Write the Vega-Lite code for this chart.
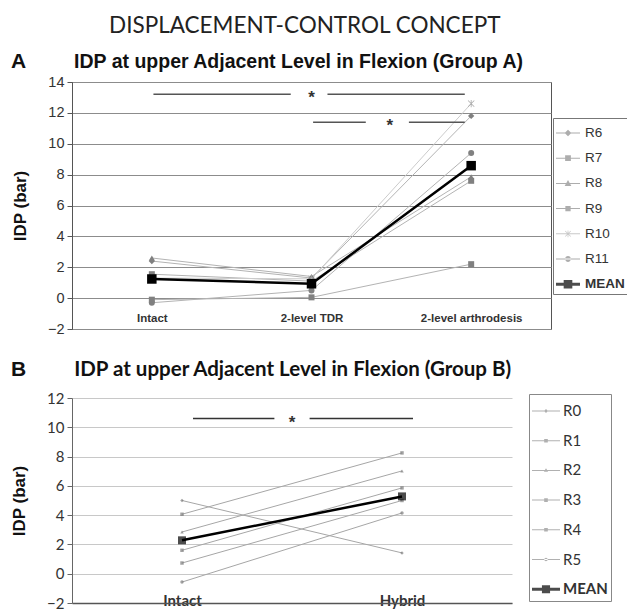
{
  "$schema": "https://vega.github.io/schema/vega-lite/v6.json",
  "padding": {"left": 10, "top": 14, "right": 0, "bottom": 0},
  "background": "white",
  "title": {"text": "DISPLACEMENT-CONTROL CONCEPT", "font": "Lato", "fontSize": 22.5, "fontWeight": "normal", "color": "#222222", "anchor": "middle", "offset": 13, "dx": -15},
  "resolve": {"scale": {"color": "independent", "shape": "independent"}, "legend": {"color": "independent", "shape": "independent"}},
  "datasets": {
    "a": [
      {"s": "R6", "i": 0, "v": 2.4}, {"s": "R6", "i": 1, "v": 1.3}, {"s": "R6", "i": 2, "v": 11.8},
      {"s": "R7", "i": 0, "v": 1.55}, {"s": "R7", "i": 1, "v": 1.1}, {"s": "R7", "i": 2, "v": 7.6},
      {"s": "R8", "i": 0, "v": 2.6}, {"s": "R8", "i": 1, "v": 1.4}, {"s": "R8", "i": 2, "v": 7.86},
      {"s": "R9", "i": 0, "v": -0.1}, {"s": "R9", "i": 1, "v": 0.05}, {"s": "R9", "i": 2, "v": 2.2},
      {"s": "R10", "i": 0, "v": 1.3}, {"s": "R10", "i": 1, "v": 1.25}, {"s": "R10", "i": 2, "v": 12.6},
      {"s": "R11", "i": 0, "v": -0.3}, {"s": "R11", "i": 1, "v": 0.5}, {"s": "R11", "i": 2, "v": 9.4},
      {"s": "MEAN", "i": 0, "v": 1.24}, {"s": "MEAN", "i": 1, "v": 0.93}, {"s": "MEAN", "i": 2, "v": 8.58}
    ],
    "b": [
      {"s": "R0", "i": 0, "v": 5.0}, {"s": "R0", "i": 1, "v": 1.42},
      {"s": "R1", "i": 0, "v": 4.06}, {"s": "R1", "i": 1, "v": 8.25},
      {"s": "R2", "i": 0, "v": 2.85}, {"s": "R2", "i": 1, "v": 7.02},
      {"s": "R3", "i": 0, "v": 1.6}, {"s": "R3", "i": 1, "v": 5.86},
      {"s": "R4", "i": 0, "v": 0.73}, {"s": "R4", "i": 1, "v": 5.0},
      {"s": "R5", "i": 0, "v": -0.57}, {"s": "R5", "i": 1, "v": 4.15},
      {"s": "MEAN", "i": 0, "v": 2.28}, {"s": "MEAN", "i": 1, "v": 5.28}
    ],
    "sigA": [
      {"x1": 0.01, "x2": 0.87, "y": 13.2},
      {"x1": 1.1, "x2": 1.96, "y": 13.2},
      {"x1": 1.01, "x2": 1.34, "y": 11.4},
      {"x1": 1.61, "x2": 1.96, "y": 11.4}
    ],
    "starA": [{"x": 1.0, "y": 13.2}, {"x": 1.49, "y": 11.4}],
    "sigB": [
      {"x1": 0.05, "x2": 0.42, "y": 10.6},
      {"x1": 0.58, "x2": 1.05, "y": 10.6}
    ],
    "starB": [{"x": 0.5, "y": 10.6}],
    "labA": [{"t": "A"}],
    "ttlA": [{"t": "IDP at upper Adjacent Level in Flexion (Group A)"}],
    "labB": [{"t": "B"}],
    "ttlB": [{"t": "IDP at upper Adjacent Level in Flexion (Group B)"}]
  },
  "spacing": 23,
  "vconcat": [
    {
      "width": 479,
      "height": 247,
      "view": {"stroke": "#555555", "strokeWidth": 1},
      "layer": [
        {
          "data": {"name": "a"},
          "transform": [{"filter": "datum.s !== 'MEAN'"}],
          "mark": {"type": "line", "strokeWidth": 1},
          "encoding": {
            "x": {"field": "i", "type": "quantitative", "scale": {"domain": [-0.5, 2.5], "nice": false, "zero": false},
              "axis": {"title": null, "values": [0, 1, 2], "tickCount": 20, "labelExpr": "['Intact','2-level TDR','2-level arthrodesis'][datum.value]", "grid": false, "ticks": false, "domain": false, "labelFont": "Liberation Sans", "labelFontWeight": "bold", "labelFontSize": 11.5, "labelColor": "#333333", "labelBaseline": "middle", "labelPadding": -11}},
            "y": {"field": "v", "type": "quantitative", "scale": {"domain": [-2, 14], "nice": false, "zero": false},
              "axis": {"title": "IDP (bar)", "titleFont": "Liberation Sans", "titleFontSize": 17, "titleFontWeight": "bold", "titleColor": "#111111", "titlePadding": 18, "values": [-2, 0, 2, 4, 6, 8, 10, 12, 14], "tickCount": 20, "format": "d", "labelOverlap": false, "grid": true, "gridColor": "#8c8c8c", "gridWidth": 1, "ticks": true, "tickSize": 5, "tickColor": "#555555", "domain": true, "domainColor": "#555555", "labelFont": "Liberation Sans", "labelFontSize": 14.5, "labelColor": "#333333", "labelPadding": 3}},
            "detail": {"field": "s"},
            "color": {"condition": {"test": "datum.s === 'R10'", "value": "#cccccc"}, "value": "#b3b3b3"}
          }
        },
        {
          "data": {"name": "a"},
          "transform": [{"filter": "datum.s === 'MEAN'"}],
          "mark": {"type": "line", "strokeWidth": 2.5, "color": "#000000"},
          "encoding": {
            "x": {"field": "i", "type": "quantitative"},
            "y": {"field": "v", "type": "quantitative"}
          }
        },
        {
          "data": {"name": "a"},
          "mark": {"type": "point", "filled": true, "opacity": 1},
          "encoding": {
            "x": {"field": "i", "type": "quantitative"},
            "y": {"field": "v", "type": "quantitative"},
            "shape": {"condition": [
              {"test": "datum.s === 'R6'", "value": "diamond"},
              {"test": "datum.s === 'R8'", "value": "triangle-up"},
              {"test": "datum.s === 'R10'", "value": "M-1,-0.85L-0.85,-1L1,0.85L0.85,1Z M0.85,-1L1,-0.85L-0.85,1L-1,0.85Z M-0.12,-1.1H0.12V1.1H-0.12Z"},
              {"test": "datum.s === 'R11'", "value": "circle"}
            ], "value": "square"},
            "color": {"condition": [
              {"test": "datum.s === 'MEAN'", "value": "#000000"},
              {"test": "datum.s === 'R10'", "value": "#a8a8a8"}
            ], "value": "#808080"},
            "size": {"condition": [
              {"test": "datum.s === 'MEAN'", "value": 90},
              {"test": "datum.s === 'R6'", "value": 40},
              {"test": "datum.s === 'R10'", "value": 45}
            ], "value": 36}
          }
        },
        {
          "data": {"name": "a"},
          "mark": {"type": "point", "filled": true, "clip": true},
          "encoding": {
            "x": {"field": "i", "type": "quantitative"},
            "y": {"datum": 100},
            "shape": {"field": "s", "type": "nominal",
              "scale": {"domain": ["R6", "R7", "R8", "R9", "R10", "R11", "MEAN"],
                "range": [
                  "M-1,-0.04H1V0.04H-1Z M0,-0.28L0.28,0L0,0.28L-0.28,0Z",
                  "M-1,-0.04H1V0.04H-1Z M-0.24,-0.24H0.24V0.24H-0.24Z",
                  "M-1,-0.04H1V0.04H-1Z M0,-0.28L0.28,0.22H-0.28Z",
                  "M-1,-0.04H1V0.04H-1Z M-0.22,-0.22H0.22V0.22H-0.22Z",
                  "M-1,-0.04H1V0.04H-1Z M-0.25,-0.21L-0.21,-0.25L0.25,0.21L0.21,0.25Z M0.21,-0.25L0.25,-0.21L-0.21,0.25L-0.25,0.21Z M-0.03,-0.28H0.03V0.28H-0.03Z",
                  "M-1,-0.04H1V0.04H-1Z M-0.24,0A0.24,0.24 0 1,0 0.24,0A0.24,0.24 0 1,0 -0.24,0Z",
                  "M-1,-0.12H1V0.12H-1Z M-0.36,-0.36H0.36V0.36H-0.36Z"
                ]},
              "legend": {"title": null, "orient": "none", "legendX": 481, "legendY": 36, "direction": "vertical", "padding": 3, "strokeColor": "#777777", "fillColor": "#ffffff", "symbolSize": 576, "rowPadding": 6.2, "labelOffset": 5, "labelFont": "Liberation Sans", "labelFontSize": 13.5, "labelFontWeight": {"expr": "datum.value === 'MEAN' ? 'bold' : 'normal'"}, "labelColor": "#333333", "symbolStrokeWidth": 0}
            },
            "color": {"field": "s", "type": "nominal",
              "scale": {"domain": ["R6", "R7", "R8", "R9", "R10", "R11", "MEAN"], "range": ["#8a8a8a", "#8a8a8a", "#8a8a8a", "#8a8a8a", "#b0b0b0", "#8a8a8a", "#000000"]},
              "legend": {"title": null, "orient": "none", "legendX": 481, "legendY": 36, "direction": "vertical", "padding": 3, "strokeColor": "#777777", "fillColor": "#ffffff", "symbolSize": 576, "rowPadding": 6.2, "labelOffset": 5, "labelFont": "Liberation Sans", "labelFontSize": 13.5, "labelFontWeight": {"expr": "datum.value === 'MEAN' ? 'bold' : 'normal'"}, "labelColor": "#333333", "symbolStrokeWidth": 0}
            }
          }
        },
        {
          "data": {"name": "sigA"},
          "mark": {"type": "rule", "color": "#555555", "strokeWidth": 1.5},
          "encoding": {
            "x": {"field": "x1", "type": "quantitative"},
            "x2": {"field": "x2"},
            "y": {"field": "y", "type": "quantitative"}
          }
        },
        {
          "data": {"name": "starA"},
          "mark": {"type": "text", "text": "*", "font": "Liberation Sans", "fontSize": 17, "fontWeight": "bold", "color": "#333333", "baseline": "middle", "dy": 4},
          "encoding": {
            "x": {"field": "x", "type": "quantitative"},
            "y": {"field": "y", "type": "quantitative"}
          }
        },
        {
          "data": {"name": "labA"},
          "mark": {"type": "text", "font": "Liberation Sans", "fontSize": 21, "fontWeight": "bold", "color": "#111111", "align": "left", "baseline": "middle"},
          "encoding": {
            "text": {"field": "t"},
            "x": {"datum": -0.882},
            "y": {"datum": 15.3}
          }
        },
        {
          "data": {"name": "ttlA"},
          "mark": {"type": "text", "font": "Liberation Sans", "fontSize": 19.5, "fontWeight": "bold", "color": "#111111", "align": "left", "baseline": "middle"},
          "encoding": {
            "text": {"field": "t"},
            "x": {"datum": -0.487},
            "y": {"datum": 15.3}
          }
        }
      ]
    },
    {
      "width": 440,
      "height": 205,
      "view": {"stroke": null},
      "layer": [
        {
          "data": {"name": "b"},
          "transform": [{"filter": "datum.s !== 'MEAN'"}],
          "mark": {"type": "line", "strokeWidth": 1, "color": "#a6a6a6"},
          "encoding": {
            "x": {"field": "i", "type": "quantitative", "scale": {"domain": [-0.5, 1.5], "nice": false, "zero": false},
              "axis": {"title": null, "values": [0, 1], "tickCount": 20, "labelExpr": "['Intact','Hybrid'][datum.value]", "grid": false, "ticks": false, "domain": true, "domainColor": "#555555", "domainWidth": 1.5, "labelFont": "Lato", "labelFontWeight": "bold", "labelFontSize": 15, "labelColor": "#333333", "labelBaseline": "middle", "labelPadding": -3}},
            "y": {"field": "v", "type": "quantitative", "scale": {"domain": [-2, 12], "nice": false, "zero": false},
              "axis": {"title": "IDP (bar)", "titleFont": "Liberation Sans", "titleFontSize": 17, "titleFontWeight": "bold", "titleColor": "#111111", "titlePadding": 18, "values": [-2, 0, 2, 4, 6, 8, 10, 12], "tickCount": 20, "format": "d", "labelOverlap": false, "grid": true, "gridColor": "#c8c8c8", "gridWidth": 1, "ticks": true, "tickSize": 5, "tickColor": "#666666", "domain": true, "domainColor": "#666666", "labelFont": "Lato", "labelFontSize": 15, "labelColor": "#333333", "labelPadding": 3}},
            "detail": {"field": "s"}
          }
        },
        {
          "data": {"name": "b"},
          "transform": [{"filter": "datum.s === 'MEAN'"}],
          "mark": {"type": "line", "strokeWidth": 2.5, "color": "#000000"},
          "encoding": {
            "x": {"field": "i", "type": "quantitative"},
            "y": {"field": "v", "type": "quantitative"}
          }
        },
        {
          "data": {"name": "b"},
          "mark": {"type": "point", "filled": true},
          "encoding": {
            "x": {"field": "i", "type": "quantitative"},
            "y": {"field": "v", "type": "quantitative"},
            "shape": {"condition": [
              {"test": "datum.s === 'R0'", "value": "diamond"},
              {"test": "datum.s === 'R2'", "value": "triangle-up"},
              {"test": "datum.s === 'R5'", "value": "circle"}
            ], "value": "square"},
            "color": {"condition": {"test": "datum.s === 'MEAN'", "value": "#000000"}, "value": "#7a7a7a"},
            "size": {"condition": {"test": "datum.s === 'MEAN'", "value": 64}, "value": 12}
          }
        },
        {
          "data": {"name": "b"},
          "mark": {"type": "point", "filled": true, "clip": true},
          "encoding": {
            "x": {"field": "i", "type": "quantitative"},
            "y": {"datum": 100},
            "shape": {"field": "s", "type": "nominal",
              "scale": {"domain": ["R0", "R1", "R2", "R3", "R4", "R5", "MEAN"],
                "range": [
                  "M-1,-0.036H1V0.036H-1Z M0,-0.14L0.14,0L0,0.14L-0.14,0Z",
                  "M-1,-0.036H1V0.036H-1Z M-0.13,-0.13H0.13V0.13H-0.13Z",
                  "M-1,-0.036H1V0.036H-1Z M0,-0.15L0.15,0.1H-0.15Z",
                  "M-1,-0.036H1V0.036H-1Z M-0.13,-0.13H0.13V0.13H-0.13Z",
                  "M-1,-0.036H1V0.036H-1Z M-0.13,-0.13H0.13V0.13H-0.13Z",
                  "M-1,-0.036H1V0.036H-1Z M-0.12,0A0.12,0.12 0 1,0 0.12,0A0.12,0.12 0 1,0 -0.12,0Z",
                  "M-1,-0.11H1V0.11H-1Z M-0.29,-0.29H0.29V0.29H-0.29Z"
                ]},
              "legend": {"title": null, "orient": "none", "legendX": 457, "legendY": -4, "direction": "vertical", "padding": 3, "strokeColor": "#888888", "fillColor": "#ffffff", "symbolSize": 784, "rowPadding": 7.7, "labelOffset": 3, "labelFont": "Lato", "labelFontSize": 15, "labelFontWeight": {"expr": "datum.value === 'MEAN' ? 'bold' : 'normal'"}, "labelColor": "#333333", "symbolStrokeWidth": 0}
            },
            "color": {"field": "s", "type": "nominal",
              "scale": {"domain": ["R0", "R1", "R2", "R3", "R4", "R5", "MEAN"], "range": ["#8f8f8f", "#8f8f8f", "#8f8f8f", "#8f8f8f", "#8f8f8f", "#8f8f8f", "#000000"]},
              "legend": {"title": null, "orient": "none", "legendX": 457, "legendY": -4, "direction": "vertical", "padding": 3, "strokeColor": "#888888", "fillColor": "#ffffff", "symbolSize": 784, "rowPadding": 7.7, "labelOffset": 3, "labelFont": "Lato", "labelFontSize": 15, "labelFontWeight": {"expr": "datum.value === 'MEAN' ? 'bold' : 'normal'"}, "labelColor": "#333333", "symbolStrokeWidth": 0}
            }
          }
        },
        {
          "data": {"name": "sigB"},
          "mark": {"type": "rule", "color": "#333333", "strokeWidth": 1.5},
          "encoding": {
            "x": {"field": "x1", "type": "quantitative"},
            "x2": {"field": "x2"},
            "y": {"field": "y", "type": "quantitative"}
          }
        },
        {
          "data": {"name": "starB"},
          "mark": {"type": "text", "text": "*", "font": "Liberation Sans", "fontSize": 17, "fontWeight": "bold", "color": "#333333", "baseline": "middle", "dy": 4},
          "encoding": {
            "x": {"field": "x", "type": "quantitative"},
            "y": {"field": "y", "type": "quantitative"}
          }
        },
        {
          "data": {"name": "labB"},
          "mark": {"type": "text", "font": "Liberation Sans", "fontSize": 21, "fontWeight": "bold", "color": "#111111", "align": "left", "baseline": "middle"},
          "encoding": {
            "text": {"field": "t"},
            "x": {"datum": -0.777},
            "y": {"datum": 13.9}
          }
        },
        {
          "data": {"name": "ttlB"},
          "mark": {"type": "text", "font": "Lato", "fontSize": 20.5, "fontWeight": "bold", "color": "#111111", "align": "left", "baseline": "middle"},
          "encoding": {
            "text": {"field": "t"},
            "x": {"datum": -0.49},
            "y": {"datum": 13.9}
          }
        }
      ]
    }
  ]
}
